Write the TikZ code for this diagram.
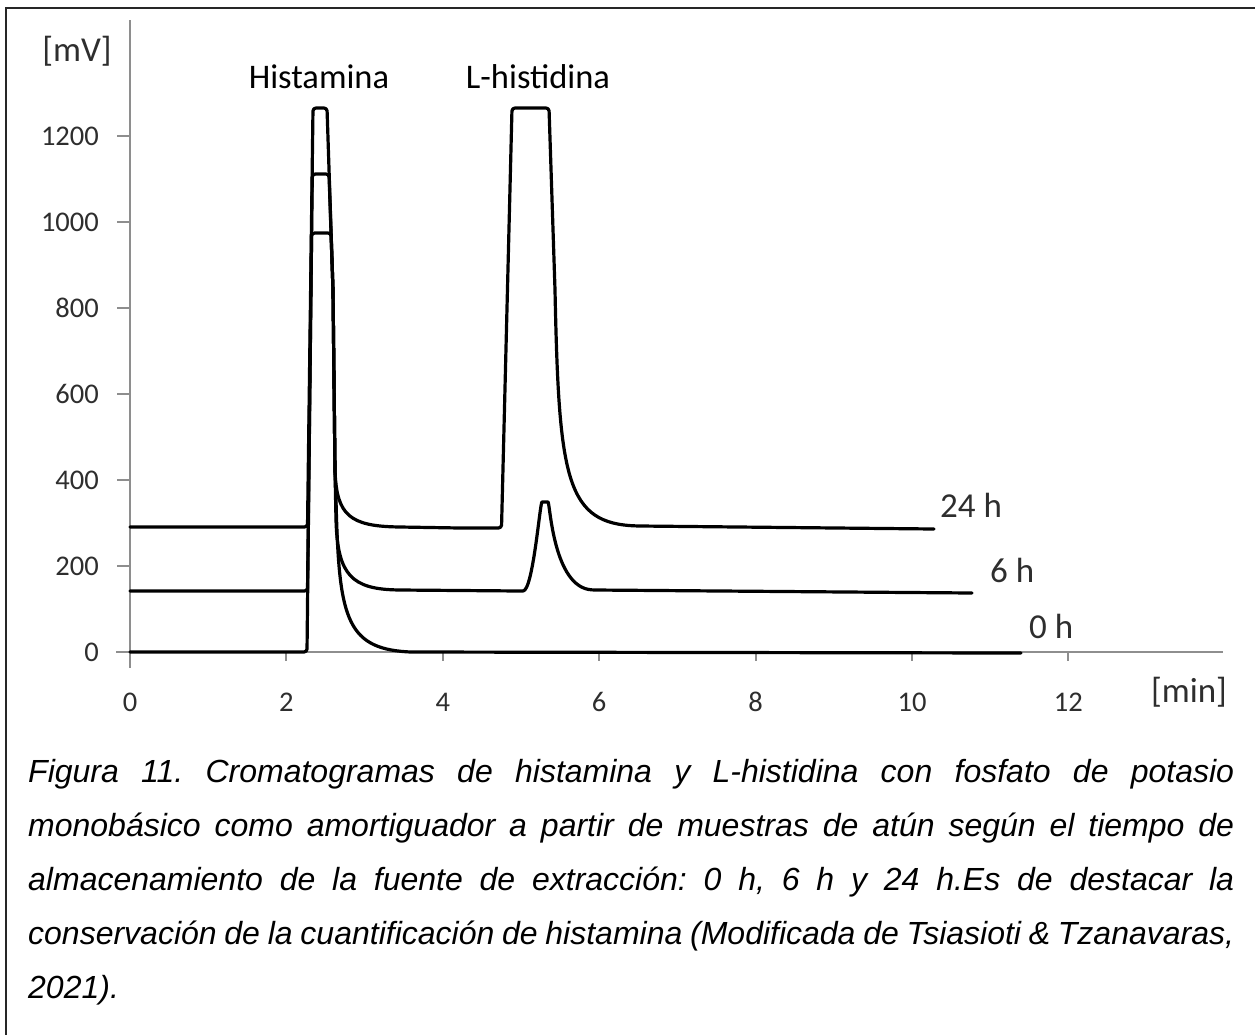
\documentclass[tikz,border=0pt]{standalone}
\usepackage{fontspec}
\setmainfont{Carlito}
\newfontfamily\capfont{Liberation Sans}
\definecolor{axisgray}{HTML}{8E8E8E}
\definecolor{labgray}{HTML}{2E2E2E}
\frenchspacing
\begin{document}
\begin{tikzpicture}[x=1pt,y=-1pt,
  curve/.style={line width=3.2pt,line join=round,line cap=round,black,rounded corners=3pt},
  axisline/.style={line width=2.8pt,axisgray},
  ticklab/.style={labgray,font=\fontsize{28.5}{30}\selectfont,inner sep=0pt},
  biglab/.style={labgray,font=\fontsize{35}{38}\selectfont,inner sep=0pt},
  peaklab/.style={black,font=\fontsize{34.5}{38}\selectfont,inner sep=0pt},
  capline/.style={anchor=base west,inner sep=0pt,font=\capfont\itshape\fontsize{32}{36}\selectfont}]
\useasboundingbox (0,0) rectangle (1255,1034);
\fill[white] (0,0) rectangle (1255,1034);
% frame
\draw[line width=2.6pt,black!85] (6,1040) -- (6,8) -- (1262,8);
% axes
\coordinate (yaxtop) at (130,20);
\coordinate (yaxbot) at (130,668);
\coordinate (xaxl) at (116,652);
\coordinate (xaxr) at (1223,652);
\draw[axisline] (yaxtop) -- (yaxbot);
\draw[axisline] (xaxl) -- (xaxr);
\foreach \v in {0,200,...,1200}{
  \draw[line width=2pt,axisgray] (117,{652-0.43*\v}) -- (130,{652-0.43*\v});
  \node[ticklab,anchor=east] (yl\v) at (99,{652-0.43*\v}) {\v};
}
\foreach \t in {0,2,...,12}{
  \draw[line width=2pt,axisgray] ({130+78.2*\t},652) -- ({130+78.2*\t},661);
  \node[ticklab] (xl\t) at ({130+78.2*\t},702) {\t};
}
\node[biglab] (mv) at (77,51) {[mV]};
\node[biglab] (min) at (1189,692) {[min]};
\node[peaklab,anchor=base] (hist) at (319,88) {Histamina};
\node[peaklab,anchor=base] (lhis) at (538,88) {L-histidina};
% 24 h
\draw[curve] (130,527) -- (307.5,527) -- (313,108) -- (327,108) -- (333,290) -- (335,470)
  .. controls (337,515) and (350,526) .. (400,527) -- (460,528) -- (501.5,528) -- (512,108) -- (549,108) -- (555,290)
  .. controls (559,480) and (566,524) .. (640,526) -- (934,529);
% 6 h
\draw[curve] (130,591) -- (307.5,591) -- (312.3,174) -- (329,174) -- (333,290) -- (335,470) -- (336,520)
  .. controls (338,575) and (352,589) .. (400,590) -- (520,591)
  .. controls (533,591) and (540,502) .. (545,502)
  .. controls (550,502) and (553,588) .. (595,590) -- (972,593);
% 0 h
\draw[curve] (130,652) -- (307,652) -- (311.6,233) -- (331,233) -- (333,290) -- (335,470) -- (336,500)
  .. controls (339,615) and (345,648) .. (410,652) -- (1021,653);
\node[biglab,anchor=base west] (l24) at (940,517) {24 h};
\node[biglab,anchor=base west] (l6) at (990,582) {6 h};
\node[biglab,anchor=base west] (l0) at (1029,638) {0 h};
% caption
\node[capline] (c1) at (28,782) {\makebox[1206pt][s]{Figura 11. Cromatogramas de histamina y L-histidina con fosfato de potasio}};
\node[capline] (c2) at (28,836) {\makebox[1206pt][s]{monobásico como amortiguador a partir de muestras de atún según el tiempo de}};
\node[capline] (c3) at (28,890) {\makebox[1206pt][s]{almacenamiento de la fuente de extracción: 0 h, 6 h y 24 h.Es de destacar la}};
\node[capline] (c4) at (28,944) {\makebox[1206pt][s]{conservación de la cuantificación de histamina (Modificada de Tsiasioti \& Tzanavaras,}};
\node[capline] (c5) at (28,998) {2021).};
\end{tikzpicture}
\end{document}
